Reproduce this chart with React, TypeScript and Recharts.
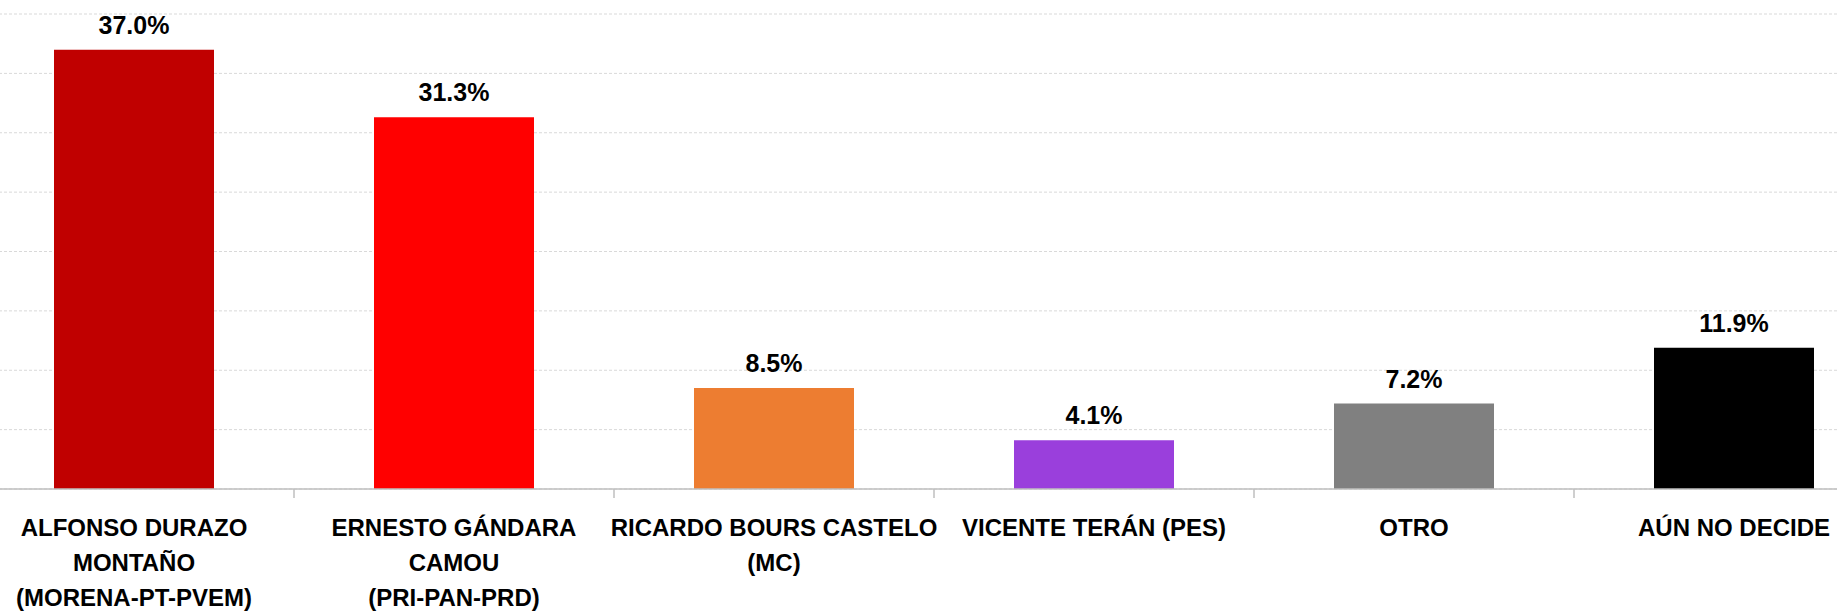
import { Bar, BarChart, CartesianGrid, Cell, LabelList, XAxis, YAxis } from "recharts";

const candidates = [
  "ALFONSO DURAZO\nMONTAÑO\n(MORENA-PT-PVEM)",
  "ERNESTO GÁNDARA\nCAMOU\n(PRI-PAN-PRD)",
  "RICARDO BOURS CASTELO\n(MC)",
  "VICENTE TERÁN (PES)",
  "OTRO",
  "AÚN NO DECIDE",
];
const shares = [37.0, 31.3, 8.5, 4.1, 7.2, 11.9];
const barColors = ["#C00000", "#FF0000", "#ED7D31", "#9A3FDC", "#808080", "#000000"];
const yTicks = [0, 5, 10, 15, 20, 25, 30, 35, 40];

const data = candidates.map((name, i) => ({ name, value: shares[i] }));

const FONT = '"Liberation Sans", Arial, sans-serif';

function CandidateTick(props: any) {
  const { x, y, payload } = props;
  const lines = String(payload.value).split("\n");
  const half = typeof payload.offset === "number" ? payload.offset : null;
  return (
    <g>
      {half !== null && (
        <line x1={x - half} x2={x - half} y1={y} y2={y + 9} stroke="#bfbfbf" strokeWidth={1.5} />
      )}
      <text x={x} y={y + 47} textAnchor="middle" fontFamily={FONT} fontWeight={700} fontSize={24} fill="#000">
        {lines.map((line, i) => (
          <tspan key={i} x={x} dy={i === 0 ? 0 : 35}>
            {line}
          </tspan>
        ))}
      </text>
    </g>
  );
}

export default function App() {
  return (
    <div style={{ position: "relative", width: 1837, height: 613, overflow: "hidden", background: "#fff" }}>
      <style>{"body{margin:0}"}</style>
      <div style={{ position: "absolute", left: -26, top: 0 }}>
        <BarChart
          width={1920}
          height={613}
          data={data}
          margin={{ top: 14, right: 0, bottom: 0, left: 0 }}
          barCategoryGap="25%"
        >
          <CartesianGrid vertical={false} stroke="#d9d9d9" strokeDasharray="3 2" />
          <YAxis hide domain={[0, 40]} ticks={yTicks} />
          <XAxis
            dataKey="name"
            height={124}
            interval={0}
            tickLine={false}
            tickSize={0}
            tickMargin={0}
            axisLine={{ stroke: "#bfbfbf", strokeWidth: 1.5 }}
            tick={<CandidateTick />}
          />
          <Bar dataKey="value" isAnimationActive={false}>
            {data.map((d, i) => (
              <Cell key={d.name} fill={barColors[i]} />
            ))}
            <LabelList
              dataKey="value"
              position="top"
              offset={16}
              formatter={(v: any) => `${Number(v).toFixed(1)}%`}
              style={{ fontFamily: FONT, fontWeight: 700, fontSize: 25, fill: "#000" }}
            />
          </Bar>
        </BarChart>
      </div>
    </div>
  );
}
